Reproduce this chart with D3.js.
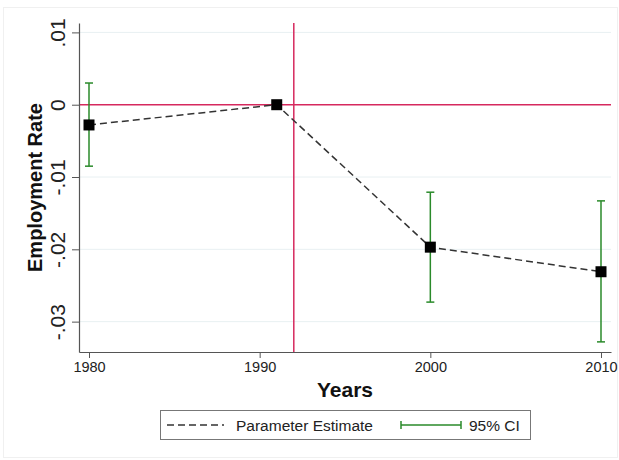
<!DOCTYPE html>
<html>
<head>
<meta charset="utf-8">
<script src="https://cdn.jsdelivr.net/npm/d3@7"></script>
<style>
  body { margin: 0; background: #fff; }
  svg { display: block; font-family: "Liberation Sans", Arial, sans-serif; }
</style>
</head>
<body>
<div id="chart"></div>
<script>
// chart values
const years = [1980, 1991, 2000, 2010];
const estimates = [-0.0028, 0, -0.0197, -0.0231];
const ciLow = [-0.0085, null, -0.0273, -0.0328];
const ciHigh = [0.0030, null, -0.0121, -0.0133];
const xTicks = [1980, 1990, 2000, 2010];
const yTicks = [0.01, 0, -0.01, -0.02, -0.03];
const yTickLabels = [".01", "0", "-.01", "-.02", "-.03"];
const refYear = 1992;
const refValue = 0;

var width = 619;
var height = 460;

var svg = d3
  .select("#chart")
  .append("svg")
  .attr("width", width)
  .attr("height", height);

// faint outer frame
svg
  .append("rect")
  .attr("x", 3.5)
  .attr("y", 7.5)
  .attr("width", 614)
  .attr("height", 450)
  .style("fill", "none")
  .style("stroke", "#f0f0f0");

var x = d3.scaleLinear().domain([1979.414, 2010.586]).range([79, 611]);
var y = d3.scaleLinear().domain([-0.0342, 0.0113]).range([352, 23]);

// gridlines
svg
  .selectAll(".grid")
  .data(yTicks.filter(d => d !== 0))
  .enter()
  .append("line")
  .attr("class", "grid")
  .attr("x1", x.range()[0])
  .attr("x2", x.range()[1])
  .attr("y1", d => y(d))
  .attr("y2", d => y(d))
  .style("stroke", "#e8f0f2")
  .style("stroke-width", 1);

// reference lines
svg
  .append("line")
  .attr("x1", x.range()[0])
  .attr("x2", x.range()[1])
  .attr("y1", y(refValue))
  .attr("y2", y(refValue))
  .style("stroke", "#d6295e")
  .style("stroke-width", 1.5);

svg
  .append("line")
  .attr("x1", x(refYear))
  .attr("x2", x(refYear))
  .attr("y1", y.range()[1])
  .attr("y2", y.range()[0])
  .style("stroke", "#d6295e")
  .style("stroke-width", 1.5);

// axes
var xAxis = svg
  .append("g")
  .attr("transform", "translate(0," + y.range()[0] + ")")
  .call(d3.axisBottom(x).tickValues(xTicks).tickFormat(d3.format("d")).tickSize(6).tickSizeOuter(0));

var yAxis = svg
  .append("g")
  .attr("transform", "translate(" + x.range()[0] + ",0)")
  .call(
    d3.axisLeft(y)
      .tickValues(yTicks)
      .tickFormat((d, i) => yTickLabels[i])
      .tickSize(7)
      .tickSizeOuter(0)
  );

[xAxis, yAxis].forEach(g => {
  g.select(".domain").style("stroke", "#555").style("stroke-width", 1.2);
  g.selectAll(".tick line").style("stroke", "#555");
  g.selectAll(".tick text").style("fill", "#222").style("font-family", "Liberation Sans, Arial, sans-serif");
});

xAxis.selectAll(".tick text").attr("y", 10).style("font-size", "14.5px");

yAxis
  .selectAll(".tick text")
  .attr("x", 0)
  .attr("dy", 0)
  .attr("text-anchor", "middle")
  .style("font-size", "21px")
  .attr("transform", "translate(-14,0) rotate(-90)");

// axis titles
svg
  .append("text")
  .attr("x", (x.range()[0] + x.range()[1]) / 2)
  .attr("y", 397)
  .attr("text-anchor", "middle")
  .style("font-size", "21px")
  .style("font-weight", "bold")
  .style("fill", "#111")
  .text("Years");

svg
  .append("text")
  .attr("transform", "translate(42," + (y.range()[0] + y.range()[1]) / 2 + ") rotate(-90)")
  .attr("text-anchor", "middle")
  .style("font-size", "20px")
  .style("font-weight", "bold")
  .style("fill", "#111")
  .text("Employment Rate");

// confidence intervals
var ciData = years
  .map((yr, i) => ({ year: yr, lo: ciLow[i], hi: ciHigh[i] }))
  .filter(d => d.lo !== null);

var ci = svg.selectAll(".ci").data(ciData).enter().append("g").attr("class", "ci");
ci.append("line")
  .attr("x1", d => x(d.year))
  .attr("x2", d => x(d.year))
  .attr("y1", d => y(d.lo))
  .attr("y2", d => y(d.hi))
  .style("stroke", "#2a8a2a")
  .style("stroke-width", 1.5);
ci.selectAll(".cap")
  .data(d => [{ year: d.year, v: d.lo }, { year: d.year, v: d.hi }])
  .enter()
  .append("line")
  .attr("x1", d => x(d.year) - 4)
  .attr("x2", d => x(d.year) + 4)
  .attr("y1", d => y(d.v))
  .attr("y2", d => y(d.v))
  .style("stroke", "#2a8a2a")
  .style("stroke-width", 1.5);

// estimate line
var points = years.map((yr, i) => ({ year: yr, est: estimates[i] }));
var line = d3.line().x(d => x(d.year)).y(d => y(d.est));

svg
  .append("path")
  .datum(points)
  .attr("d", line)
  .style("fill", "none")
  .style("stroke", "#333")
  .style("stroke-width", 1.5)
  .style("stroke-dasharray", "7,4");

svg
  .selectAll(".marker")
  .data(points)
  .enter()
  .append("rect")
  .attr("class", "marker")
  .attr("x", d => x(d.year) - 5.5)
  .attr("y", d => y(d.est) - 5.5)
  .attr("width", 11)
  .attr("height", 11)
  .style("fill", "#000");

// legend
var legend = svg.append("g");
legend
  .append("rect")
  .attr("x", 160.5)
  .attr("y", 410.5)
  .attr("width", 370)
  .attr("height", 29)
  .style("fill", "#fff")
  .style("stroke", "#777")
  .style("stroke-width", 1);

legend
  .append("line")
  .attr("x1", 167)
  .attr("x2", 224)
  .attr("y1", 425)
  .attr("y2", 425)
  .style("stroke", "#333")
  .style("stroke-width", 1.5)
  .style("stroke-dasharray", "7,4");

legend
  .append("text")
  .attr("x", 236)
  .attr("y", 430.5)
  .style("font-size", "15.5px")
  .style("fill", "#222")
  .text("Parameter Estimate");

legend
  .append("line")
  .attr("x1", 401)
  .attr("x2", 461)
  .attr("y1", 425)
  .attr("y2", 425)
  .style("stroke", "#2a8a2a")
  .style("stroke-width", 1.5);
[401, 461].forEach(cx => {
  legend
    .append("line")
    .attr("x1", cx)
    .attr("x2", cx)
    .attr("y1", 421)
    .attr("y2", 429)
    .style("stroke", "#2a8a2a")
    .style("stroke-width", 1.5);
});

legend
  .append("text")
  .attr("x", 469)
  .attr("y", 430.5)
  .style("font-size", "15.5px")
  .style("fill", "#222")
  .text("95% CI");
</script>
</body>
</html>
